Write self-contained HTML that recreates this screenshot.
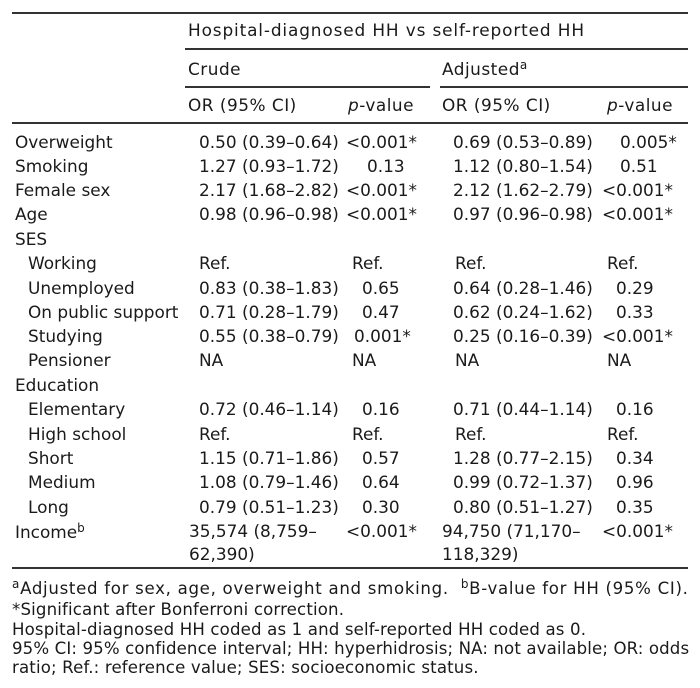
<!DOCTYPE html>
<html><head><meta charset="utf-8"><style>
body{margin:0;background:#fff;}
#c{position:relative;width:700px;height:688px;overflow:hidden;font-family:"DejaVu Sans","Liberation Sans",sans-serif;font-size:16.9px;color:#1a1a1a;}
.t{position:absolute;white-space:nowrap;line-height:20px;height:20px;}
.l{position:absolute;height:1.5px;background:#333;}
sup{font-size:12px;line-height:0;vertical-align:6px;}
.f{font-size:16.6px;letter-spacing:0.15px;}
</style></head><body><div id="c">
<div class="l" style="left:12px;top:12px;width:676px"></div>
<div class="t" style="left:188px;top:20px;letter-spacing:0.87px">Hospital-diagnosed HH vs self-reported HH</div>
<div class="l" style="left:185px;top:48px;width:503px"></div>
<div class="t" style="left:188px;top:59px;letter-spacing:0.5px">Crude</div>
<div class="t" style="left:442px;top:59px;letter-spacing:0.5px">Adjusted<sup>a</sup></div>
<div class="l" style="left:185px;top:86px;width:245px"></div>
<div class="l" style="left:440px;top:86px;width:248px"></div>
<div class="t" style="left:188px;top:95px;letter-spacing:0.5px">OR (95% CI)</div>
<div class="t" style="left:348px;top:95px;letter-spacing:0.5px"><i>p</i>-value</div>
<div class="t" style="left:442px;top:95px;letter-spacing:0.5px">OR (95% CI)</div>
<div class="t" style="left:607px;top:95px;letter-spacing:0.5px"><i>p</i>-value</div>
<div class="l" style="left:12px;top:122px;width:676px"></div>

<div class="t" style="left:15px;top:132px">Overweight</div>
<div class="t" style="left:199px;top:132px">0.50 (0.39–0.64)</div>
<div class="t" style="left:346px;top:132px">&lt;0.001*</div>
<div class="t" style="left:453px;top:132px">0.69 (0.53–0.89)</div>
<div class="t" style="left:620px;top:132px">0.005*</div>

<div class="t" style="left:15px;top:156px">Smoking</div>
<div class="t" style="left:199px;top:156px">1.27 (0.93–1.72)</div>
<div class="t" style="left:367px;top:156px">0.13</div>
<div class="t" style="left:453px;top:156px">1.12 (0.80–1.54)</div>
<div class="t" style="left:620px;top:156px">0.51</div>

<div class="t" style="left:15px;top:180px">Female sex</div>
<div class="t" style="left:199px;top:180px">2.17 (1.68–2.82)</div>
<div class="t" style="left:346px;top:180px">&lt;0.001*</div>
<div class="t" style="left:453px;top:180px">2.12 (1.62–2.79)</div>
<div class="t" style="left:602px;top:180px">&lt;0.001*</div>

<div class="t" style="left:15px;top:204px">Age</div>
<div class="t" style="left:199px;top:204px">0.98 (0.96–0.98)</div>
<div class="t" style="left:346px;top:204px">&lt;0.001*</div>
<div class="t" style="left:453px;top:204px">0.97 (0.96–0.98)</div>
<div class="t" style="left:602px;top:204px">&lt;0.001*</div>

<div class="t" style="left:15px;top:229px">SES</div>

<div class="t" style="left:28px;top:253px">Working</div>
<div class="t" style="left:199px;top:253px">Ref.</div>
<div class="t" style="left:352px;top:253px">Ref.</div>
<div class="t" style="left:455px;top:253px">Ref.</div>
<div class="t" style="left:607px;top:253px">Ref.</div>

<div class="t" style="left:28px;top:278px">Unemployed</div>
<div class="t" style="left:199px;top:278px">0.83 (0.38–1.83)</div>
<div class="t" style="left:362px;top:278px">0.65</div>
<div class="t" style="left:453px;top:278px">0.64 (0.28–1.46)</div>
<div class="t" style="left:616px;top:278px">0.29</div>

<div class="t" style="left:28px;top:302px">On public support</div>
<div class="t" style="left:199px;top:302px">0.71 (0.28–1.79)</div>
<div class="t" style="left:362px;top:302px">0.47</div>
<div class="t" style="left:453px;top:302px">0.62 (0.24–1.62)</div>
<div class="t" style="left:616px;top:302px">0.33</div>

<div class="t" style="left:28px;top:326px">Studying</div>
<div class="t" style="left:199px;top:326px">0.55 (0.38–0.79)</div>
<div class="t" style="left:354px;top:326px">0.001*</div>
<div class="t" style="left:453px;top:326px">0.25 (0.16–0.39)</div>
<div class="t" style="left:602px;top:326px">&lt;0.001*</div>

<div class="t" style="left:28px;top:350px">Pensioner</div>
<div class="t" style="left:199px;top:350px">NA</div>
<div class="t" style="left:352px;top:350px">NA</div>
<div class="t" style="left:455px;top:350px">NA</div>
<div class="t" style="left:607px;top:350px">NA</div>

<div class="t" style="left:15px;top:375px">Education</div>

<div class="t" style="left:28px;top:399px">Elementary</div>
<div class="t" style="left:199px;top:399px">0.72 (0.46–1.14)</div>
<div class="t" style="left:362px;top:399px">0.16</div>
<div class="t" style="left:453px;top:399px">0.71 (0.44–1.14)</div>
<div class="t" style="left:616px;top:399px">0.16</div>

<div class="t" style="left:28px;top:424px">High school</div>
<div class="t" style="left:199px;top:424px">Ref.</div>
<div class="t" style="left:352px;top:424px">Ref.</div>
<div class="t" style="left:455px;top:424px">Ref.</div>
<div class="t" style="left:607px;top:424px">Ref.</div>

<div class="t" style="left:28px;top:448px">Short</div>
<div class="t" style="left:199px;top:448px">1.15 (0.71–1.86)</div>
<div class="t" style="left:362px;top:448px">0.57</div>
<div class="t" style="left:453px;top:448px">1.28 (0.77–2.15)</div>
<div class="t" style="left:616px;top:448px">0.34</div>

<div class="t" style="left:28px;top:472px">Medium</div>
<div class="t" style="left:199px;top:472px">1.08 (0.79–1.46)</div>
<div class="t" style="left:362px;top:472px">0.64</div>
<div class="t" style="left:453px;top:472px">0.99 (0.72–1.37)</div>
<div class="t" style="left:616px;top:472px">0.96</div>

<div class="t" style="left:28px;top:497px">Long</div>
<div class="t" style="left:199px;top:497px">0.79 (0.51–1.23)</div>
<div class="t" style="left:362px;top:497px">0.30</div>
<div class="t" style="left:453px;top:497px">0.80 (0.51–1.27)</div>
<div class="t" style="left:616px;top:497px">0.35</div>

<div class="t" style="left:15px;top:522px">Income<sup>b</sup></div>
<div class="t" style="left:189px;top:521px">35,574 (8,759–</div>
<div class="t" style="left:189px;top:544px">62,390)</div>
<div class="t" style="left:346px;top:521px">&lt;0.001*</div>
<div class="t" style="left:442px;top:521px">94,750 (71,170–</div>
<div class="t" style="left:442px;top:544px">118,329)</div>
<div class="t" style="left:602px;top:521px">&lt;0.001*</div>

<div class="l" style="left:12px;top:567px;width:676px"></div>
<div class="t f" style="left:12px;top:579px;letter-spacing:0.7px"><sup>a</sup>Adjusted for sex, age, overweight and smoking.&nbsp; <sup>b</sup>B-value for HH (95% CI).</div>
<div class="t f" style="left:12px;top:600px">*Significant after Bonferroni correction.</div>
<div class="t f" style="left:12px;top:620px">Hospital-diagnosed HH coded as 1 and self-reported HH coded as 0.</div>
<div class="t f" style="left:12px;top:639px;letter-spacing:0.12px">95% CI: 95% confidence interval; HH: hyperhidrosis; NA: not available; OR: odds</div>
<div class="t f" style="left:12px;top:658px">ratio; Ref.: reference value; SES: socioeconomic status.</div>
</div></body></html>
